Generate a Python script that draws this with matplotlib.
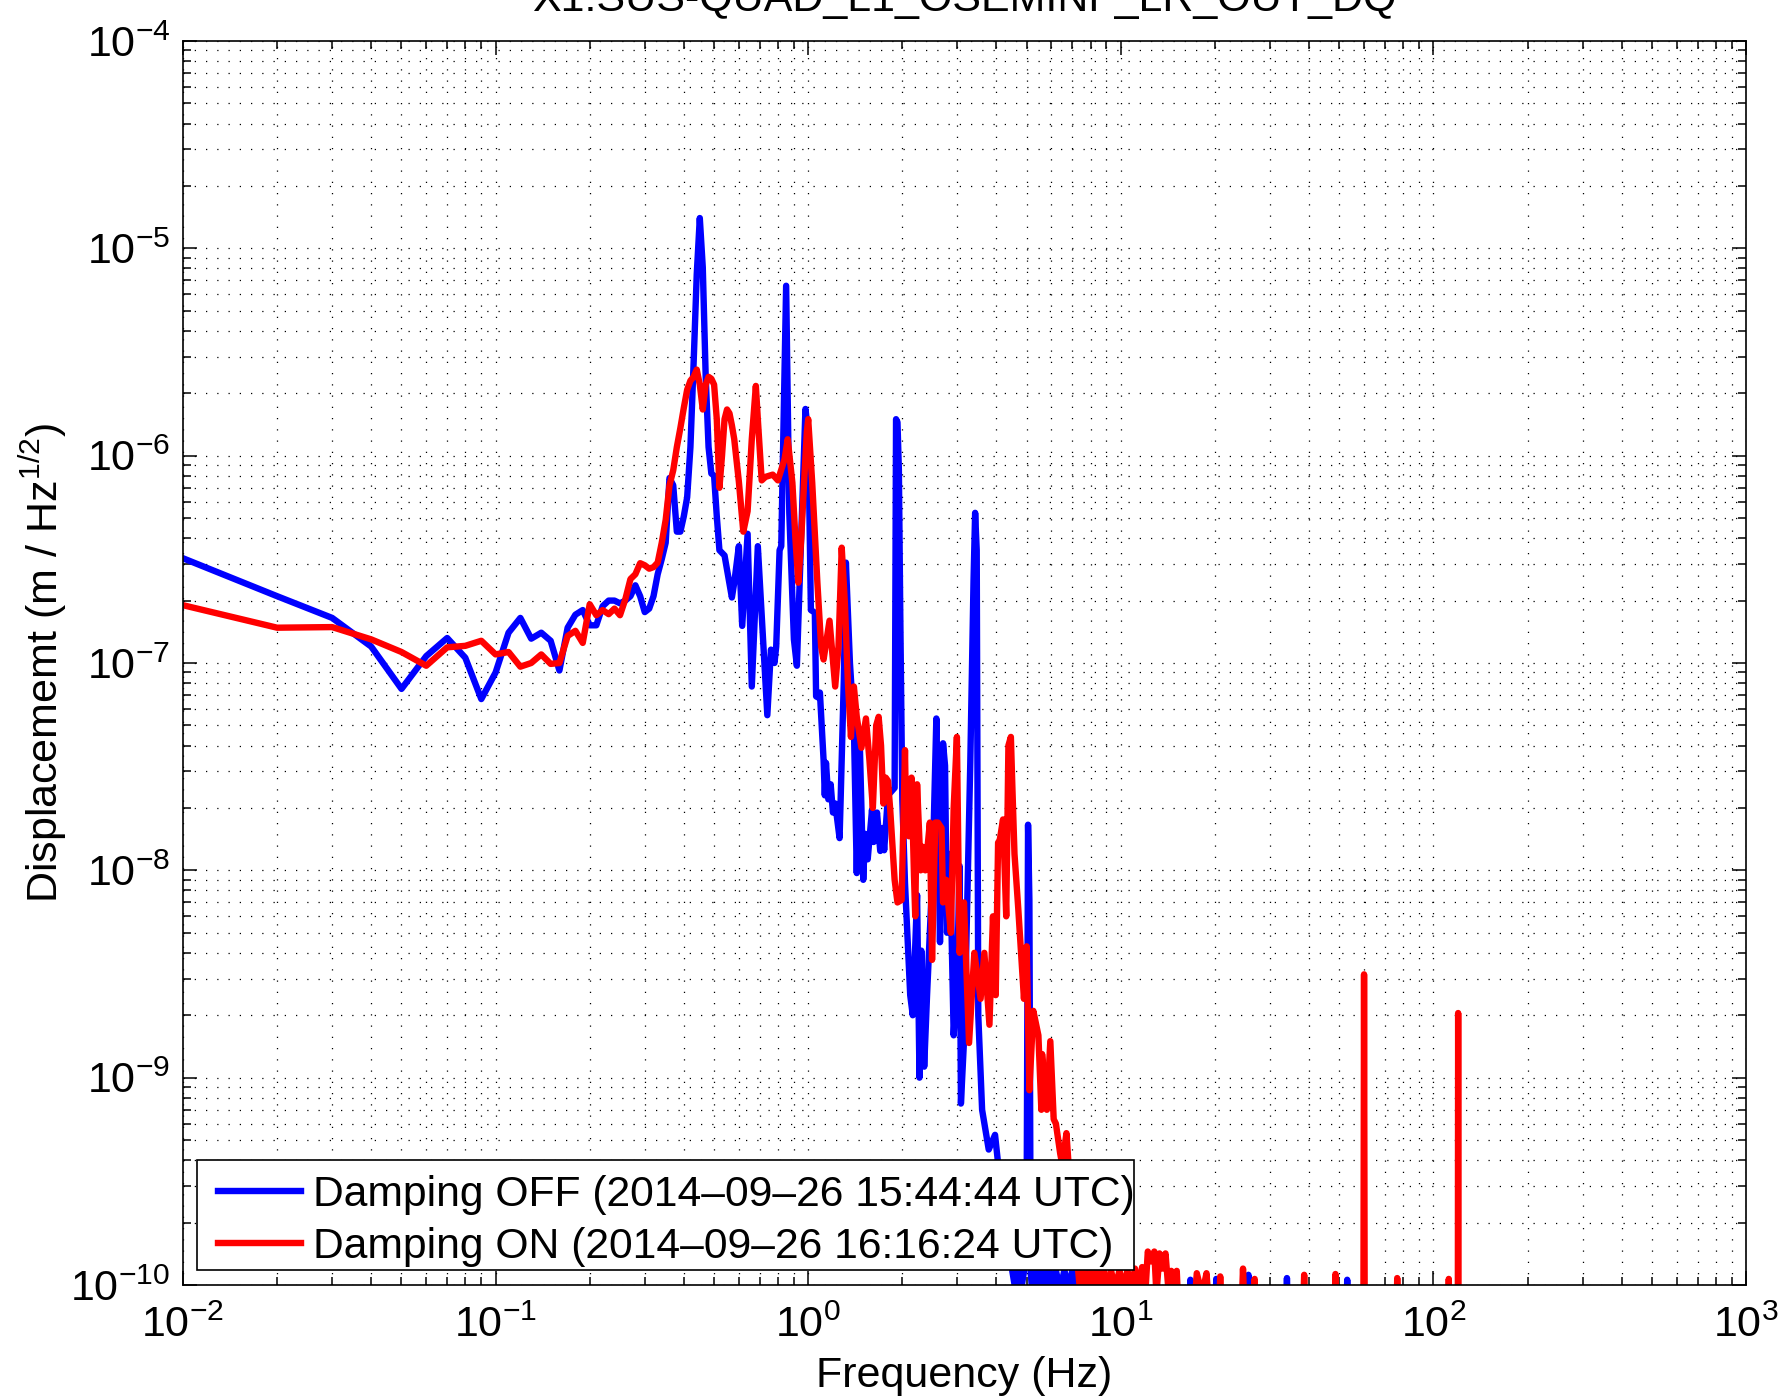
import matplotlib
matplotlib.use("Agg")
import matplotlib.pyplot as plt
from matplotlib.patches import Rectangle
from matplotlib.ticker import LogLocator, NullFormatter

# Damping OFF (blue)
off_freq = [0.01, 0.02, 0.03, 0.04, 0.05, 0.06, 0.07, 0.08, 0.09, 0.10,
            0.11, 0.12, 0.13, 0.14, 0.15, 0.16, 0.17, 0.18, 0.19, 0.20,
            0.21, 0.22, 0.23, 0.24, 0.25, 0.26, 0.27, 0.28, 0.29, 0.30,
            0.31, 0.32, 0.33, 0.34, 0.35, 0.36, 0.37, 0.38, 0.39, 0.40,
            0.41, 0.42, 0.43, 0.44, 0.45, 0.46, 0.47, 0.48, 0.49, 0.50,
            0.51, 0.52, 0.53, 0.54, 0.57, 0.58, 0.60, 0.615, 0.64, 0.66,
            0.69, 0.74, 0.76, 0.78, 0.79, 0.81, 0.82, 0.85, 0.87, 0.90,
            0.92, 0.98, 1.00, 1.02, 1.05, 1.06, 1.08, 1.09, 1.12, 1.13,
            1.14, 1.16, 1.18, 1.20, 1.22, 1.26, 1.27, 1.30, 1.32, 1.36,
            1.40, 1.43, 1.46, 1.50, 1.52, 1.55, 1.60, 1.62, 1.66, 1.70,
            1.73, 1.75, 1.80, 1.89, 1.91, 1.93, 1.95, 1.97, 2.00, 2.04,
            2.12, 2.16, 2.23, 2.27, 2.30, 2.35, 2.40, 2.50, 2.57, 2.60,
            2.64, 2.70, 2.74, 2.78, 2.84, 2.92, 3.00, 3.05, 3.08, 3.16,
            3.30, 3.38, 3.42, 3.46, 3.50, 3.60, 3.78, 3.96, 4.04, 4.10,
            4.30, 4.50, 4.60, 4.70, 4.80, 4.90, 5.00, 5.05, 5.10, 5.15,
            5.20, 5.30, 5.40, 5.50, 5.60, 5.70, 5.80, 5.90, 6.00, 6.20,
            6.40, 6.60, 6.80, 7.00, 7.20, 7.40, 7.60, 7.80, 8.00, 8.50,
            10.0, 16.5, 16.7, 16.9, 20.0, 20.2, 20.4, 25.2, 25.6, 26.0,
            33.5, 34.0, 34.5, 52.5, 53.0, 53.5, 130.0]
off_asd = [3.2e-7, 2.1e-7, 1.65e-7, 1.2e-7, 7.5e-8, 1.08e-7, 1.32e-7, 1.06e-7, 6.7e-8, 9.0e-8,
           1.4e-7, 1.65e-7, 1.31e-7, 1.4e-7, 1.28e-7, 9.2e-8, 1.48e-7, 1.71e-7, 1.8e-7, 1.52e-7,
           1.52e-7, 1.88e-7, 2.0e-7, 2.0e-7, 1.94e-7, 2.0e-7, 2.1e-7, 2.37e-7, 2.1e-7, 1.76e-7,
           1.83e-7, 2.1e-7, 2.68e-7, 3.17e-7, 3.8e-7, 7.8e-7, 7.2e-7, 4.3e-7, 4.3e-7, 5.1e-7,
           6.3e-7, 1.1e-6, 2.8e-6, 7.5e-6, 1.4e-5, 8.1e-6, 2.4e-6, 1.1e-6, 8.2e-7, 8.0e-7,
           5.1e-7, 3.5e-7, 3.4e-7, 3.3e-7, 2.07e-7, 2.44e-7, 3.66e-7, 1.51e-7, 4.2e-7, 7.7e-8,
           3.66e-7, 5.6e-8, 1.16e-7, 1.0e-7, 1.2e-7, 3.5e-7, 3.66e-7, 6.6e-6, 5.3e-7, 1.3e-7,
           9.7e-8, 1.68e-6, 1.29e-6, 1.8e-7, 1.75e-7, 6.9e-8, 6.8e-8, 7.2e-8, 3.4e-8, 2.3e-8,
           3.3e-8, 2.2e-8, 2.6e-8, 1.9e-8, 2.1e-8, 1.43e-8, 2.2e-8, 8.3e-8, 3.05e-7, 1.0e-7,
           5.0e-8, 9.7e-9, 4.5e-8, 9.0e-9, 1.5e-8, 1.13e-8, 1.96e-8, 1.37e-8, 1.9e-8, 1.24e-8,
           1.6e-8, 1.25e-8, 2.3e-8, 2.5e-8, 1.5e-6, 1.45e-6, 8.6e-7, 1.75e-7, 2.2e-8, 8.7e-9,
           2.5e-9, 2.0e-9, 7.6e-9, 1.0e-9, 4.1e-9, 1.13e-9, 2.5e-9, 1.0e-8, 5.4e-8, 2.2e-8,
           4.5e-9, 4.1e-8, 3.2e-8, 5.0e-9, 1.2e-8, 1.6e-9, 3.4e-9, 1.05e-8, 7.5e-10, 1.65e-9,
           3.3e-8, 2.5e-7, 5.3e-7, 3.5e-7, 2.0e-9, 7.0e-10, 4.5e-10, 5.3e-10, 4.0e-10, 3.7e-10,
           2.0e-10, 1.16e-10, 9.5e-11, 1.18e-10, 9.5e-11, 1.16e-10, 3.0e-10, 1.66e-8, 7.2e-9, 1.15e-10,
           9.5e-11, 1.18e-10, 9.5e-11, 1.18e-10, 9.5e-11, 1.17e-10, 9.5e-11, 1.18e-10, 9.5e-11, 1.17e-10,
           9.5e-11, 1.18e-10, 9.5e-11, 1.18e-10, 9.5e-11, 1.17e-10, 9.5e-11, 1.15e-10, 5.0e-11, 6.0e-11,
           5.0e-11, 5.0e-11, 1.06e-10, 5.0e-11, 5.0e-11, 1.07e-10, 5.0e-11, 5.0e-11, 1.12e-10, 5.0e-11,
           5.0e-11, 1.08e-10, 5.0e-11, 5.0e-11, 1.06e-10, 5.0e-11, 4.0e-11]

# Damping ON (red)
on_freq = [0.01, 0.02, 0.03, 0.04, 0.05, 0.06, 0.07, 0.08, 0.09, 0.10,
           0.11, 0.12, 0.13, 0.14, 0.15, 0.16, 0.17, 0.18, 0.19, 0.20,
           0.21, 0.22, 0.23, 0.24, 0.25, 0.26, 0.27, 0.28, 0.29, 0.30,
           0.31, 0.32, 0.33, 0.34, 0.35, 0.36, 0.37, 0.38, 0.39, 0.40,
           0.41, 0.42, 0.43, 0.44, 0.45, 0.46, 0.47, 0.48, 0.49, 0.50,
           0.51, 0.52, 0.53, 0.54, 0.55, 0.56, 0.57, 0.58, 0.60, 0.62,
           0.64, 0.66, 0.68, 0.69, 0.71, 0.73, 0.77, 0.80, 0.84, 0.86,
           0.89, 0.91, 0.93, 0.95, 0.97, 0.99, 1.00, 1.03, 1.07, 1.10,
           1.12, 1.17, 1.22, 1.25, 1.28, 1.31, 1.34, 1.37, 1.40, 1.43,
           1.48, 1.53, 1.57, 1.61, 1.65, 1.68, 1.71, 1.74, 1.77, 1.80,
           1.83, 1.89, 1.93, 1.99, 2.04, 2.06, 2.10, 2.14, 2.18, 2.20,
           2.23, 2.29, 2.32, 2.37, 2.45, 2.49, 2.53, 2.55, 2.60, 2.67,
           2.70, 2.76, 2.86, 2.92, 2.99, 3.05, 3.15, 3.27, 3.40, 3.56,
           3.66, 3.80, 3.90, 3.98, 4.05, 4.10, 4.20, 4.30, 4.37, 4.45,
           4.50, 4.57, 4.70, 4.90, 5.00, 5.10, 5.25, 5.45, 5.57, 5.60,
           5.80, 5.95, 6.10, 6.20, 6.40, 6.50, 6.70, 6.80, 7.00, 7.20,
           7.4, 7.6, 7.8, 8.0, 8.2, 8.4, 8.6, 8.8, 9.0, 9.3,
           9.6, 9.9, 10.2, 10.5, 10.8, 11.1, 11.4, 11.7, 12.0, 12.2,
           12.5, 12.8, 13.0, 13.3, 13.6, 13.9, 14.2, 14.5, 14.8, 15.1,
           15.4, 17.0, 17.5, 18.2, 18.8, 19.4, 20.5, 20.8, 21.1, 24.2,
           24.6, 25.0, 26.5, 26.8, 27.1, 38.0, 38.6, 39.2, 48.0, 48.6,
           49.2, 59.7, 60.0, 60.3, 76.0, 76.6, 77.2, 111.5, 112.0, 112.5,
           119.7, 120.0, 120.3, 130.0]
on_asd = [1.9e-7, 1.48e-7, 1.49e-7, 1.3e-7, 1.13e-7, 9.7e-8, 1.19e-7, 1.21e-7, 1.28e-7, 1.1e-7,
          1.13e-7, 9.6e-8, 1.0e-7, 1.1e-7, 9.9e-8, 1.0e-7, 1.35e-7, 1.43e-7, 1.25e-7, 1.92e-7,
          1.7e-7, 1.8e-7, 1.72e-7, 1.83e-7, 1.7e-7, 2.03e-7, 2.54e-7, 2.68e-7, 3.03e-7, 2.96e-7,
          2.85e-7, 2.9e-7, 3.05e-7, 3.8e-7, 4.9e-7, 7.2e-7, 8.5e-7, 1.1e-6, 1.36e-6, 1.7e-6,
          2.08e-6, 2.3e-6, 2.4e-6, 2.6e-6, 2.2e-6, 1.67e-6, 2.2e-6, 2.4e-6, 2.35e-6, 2.2e-6,
          1.5e-6, 7.0e-7, 1.0e-6, 1.5e-6, 1.67e-6, 1.6e-6, 1.4e-6, 1.2e-6, 7.5e-7, 4.3e-7,
          5.4e-7, 1.2e-6, 2.17e-6, 1.5e-6, 7.6e-7, 7.9e-7, 8.1e-7, 7.6e-7, 9.6e-7, 1.2e-6,
          7.4e-7, 4.0e-7, 2.44e-7, 4.0e-7, 7.4e-7, 1.3e-6, 1.5e-6, 7.4e-7, 2.44e-7, 1.2e-7,
          1.04e-7, 1.6e-7, 7.7e-8, 1.2e-7, 3.6e-7, 1.95e-7, 8.0e-8, 4.4e-8, 7.7e-8, 5.5e-8,
          3.9e-8, 5.4e-8, 3.4e-8, 2.0e-8, 5.0e-8, 5.5e-8, 4.0e-8, 2.1e-8, 2.8e-8, 2.7e-8,
          1.95e-8, 9.0e-9, 7.0e-9, 7.2e-9, 3.8e-8, 1.5e-8, 1.46e-8, 2.8e-8, 9.4e-9, 6.0e-9,
          2.6e-8, 1.0e-8, 1.3e-8, 1.0e-8, 1.7e-8, 3.7e-9, 1.0e-8, 1.7e-8, 1.7e-8, 1.6e-8,
          7.0e-9, 9.0e-9, 5.0e-9, 2.0e-8, 4.4e-8, 4.0e-9, 7.0e-9, 1.47e-9, 4.0e-9, 2.4e-9,
          4.0e-9, 1.8e-9, 6.0e-9, 2.5e-9, 1.36e-8, 1.4e-8, 1.76e-8, 6.0e-9, 4.0e-8, 4.4e-8,
          2.5e-8, 1.2e-8, 6.5e-9, 2.4e-9, 4.3e-9, 8.7e-10, 2.1e-9, 1.6e-9, 7.0e-10, 1.3e-9,
          7.0e-10, 1.5e-9, 6.3e-10, 6.0e-10, 4.3e-10, 3.8e-10, 5.4e-10, 3.9e-10, 2.5e-10, 1.5e-10,
          9.5e-11, 1.18e-10, 9.5e-11, 1.18e-10, 9.5e-11, 1.18e-10, 9.5e-11, 1.18e-10, 9.5e-11, 1.18e-10,
          9.5e-11, 1.18e-10, 9.5e-11, 1.18e-10, 9.5e-11, 1.2e-10, 9.5e-11, 1.22e-10, 9.5e-11, 1.45e-10,
          1.3e-10, 1.45e-10, 9.0e-11, 1.42e-10, 1.2e-10, 1.42e-10, 9.5e-11, 1.17e-10, 9.0e-11, 1.17e-10,
          6.0e-11, 6.0e-11, 1.14e-10, 9.0e-11, 1.14e-10, 6.0e-11, 6.0e-11, 1.1e-10, 6.0e-11, 6.0e-11,
          1.2e-10, 6.0e-11, 6.0e-11, 1.07e-10, 6.0e-11, 5.0e-11, 1.12e-10, 5.0e-11, 5.0e-11, 1.13e-10,
          5.0e-11, 5.0e-11, 3.15e-9, 5.0e-11, 5.0e-11, 1.08e-10, 5.0e-11, 5.0e-11, 1.07e-10, 5.0e-11,
          5.0e-11, 2.05e-9, 5.0e-11, 4.0e-11]

plt.rcParams['font.family'] = ['Liberation Sans', 'DejaVu Sans']
plt.rcParams['mathtext.fontset'] = 'custom'
plt.rcParams['mathtext.rm'] = 'Liberation Sans'
plt.rcParams['mathtext.it'] = 'Liberation Sans:italic'
plt.rcParams['mathtext.bf'] = 'Liberation Sans:bold'

fs = 31
fig = plt.figure(figsize=(17.83, 14.0), dpi=100)
ax = fig.add_axes([183 / 1783, 1 - 1285 / 1400, (1746 - 183) / 1783, (1285 - 41) / 1400])

ax.loglog(off_freq, off_asd, color=(0, 0, 1), lw=4.6,
          label='Damping OFF (2014\u201309\u201326 15:44:44 UTC)')
ax.loglog(on_freq, on_asd, color=(1, 0, 0), lw=4.6,
          label='Damping ON (2014\u201309\u201326 16:16:24 UTC)')

ax.set_xlim(1e-2, 1e3)
ax.set_ylim(1e-10, 1e-4)

for axis in (ax.xaxis, ax.yaxis):
    axis.set_major_locator(LogLocator(base=10, numticks=20))
    axis.set_minor_locator(LogLocator(base=10, subs=range(2, 10), numticks=100))
    axis.set_minor_formatter(NullFormatter())

ax.grid(True, which='both', color='k', linestyle=(0, (1, 8)), linewidth=0.9)
ax.tick_params(which='both', direction='in', top=True, right=True, width=1.1)
ax.tick_params(which='major', length=10, labelsize=fs)
ax.tick_params(axis='x', which='major', pad=15)
ax.tick_params(axis='y', which='major', pad=9)
ax.tick_params(which='minor', length=5.5)
for s in ax.spines.values():
    s.set_linewidth(1.2)

ax.set_xlabel('Frequency (Hz)', fontsize=fs, labelpad=7)
ax.set_ylabel('Displacememt (m / Hz$^{1/2}$)', fontsize=fs, labelpad=1)

fig.text(0.541, 1 - 11 / 1400, 'X1:SUS-QUAD_L1_OSEMINF_LR_OUT_DQ',
         ha='center', va='baseline', fontsize=fs)

# legend box drawn by hand: the text runs right up to its right edge
ax.add_patch(Rectangle((0.009, 0.012), 0.5995, 0.0884, transform=ax.transAxes,
                       facecolor='white', edgecolor='black', lw=1.2, zorder=4))
leg = ax.legend(loc='lower left', bbox_to_anchor=(0.0225, 0.0145), fontsize=30.7,
                frameon=False, borderaxespad=0, borderpad=0,
                handlelength=1.95, handletextpad=0.27, labelspacing=0.29)
leg.set_zorder(5)

fig.savefig('out.png', dpi=100)
